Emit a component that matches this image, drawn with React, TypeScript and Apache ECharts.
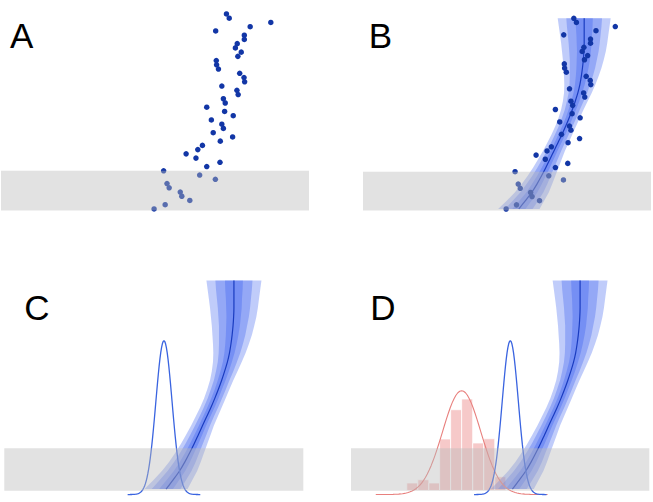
import React, { useEffect, useRef } from "react";
import * as echarts from "echarts";

// ---- data (x: signal units across the band, y: level index) ----
const pointX = [
  4.97, 5.33, 6.13, 5.87, 5.82, 5.46, 5.39, 6.96, 6.45, 5.28,
  6.68, 7.11, 6.33, 6.01, 6.39, 6.54, 7.12, 7.52, 6.89, 7.22,
  7.17, 6.83, 7.54, 7.26, 6.68, 7.28, 7.22, 7.7, 7.66, 7.17,
  7.91, 7.89, 7.75, 7.06, 7.0, 6.99, 7.69, 7.8, 7.61, 7.67,
  7.9, 7.9, 6.97, 8.09, 8.76, 7.41, 7.32,
];
const pointY = [
  0, 1, 2, 3, 4, 5, 6, 7, 8, 9,
  10, 11, 12, 13, 14, 15, 16, 17, 18, 19,
  20, 21, 22, 23, 24, 25, 26, 27, 28, 29,
  30, 31, 32, 33, 34, 35, 36, 37, 38, 39,
  40, 41, 42, 43, 44, 45, 46,
];

const fanY = [0, 2, 4, 6, 8, 10, 12, 14, 16, 18, 20, 22, 24, 26, 28, 30, 32, 34, 36, 38, 40, 42, 44, 46];
const fanCenter = [
  5.41, 5.64, 5.86, 6.04, 6.2, 6.35, 6.49, 6.63, 6.77, 6.91, 7.04, 7.16,
  7.27, 7.37, 7.46, 7.53, 7.58, 7.62, 7.65, 7.67, 7.68, 7.68, 7.68, 7.68,
];
const fanOuter = [
  0.72, 0.65, 0.59, 0.53, 0.48, 0.44, 0.41, 0.38, 0.37, 0.36, 0.36, 0.37,
  0.39, 0.43, 0.48, 0.54, 0.6, 0.66, 0.71, 0.76, 0.8, 0.84, 0.88, 0.92,
];
const fanMiddle = [
  0.48, 0.44, 0.4, 0.36, 0.32, 0.29, 0.27, 0.25, 0.24, 0.24, 0.24, 0.25,
  0.26, 0.29, 0.32, 0.36, 0.4, 0.44, 0.47, 0.51, 0.54, 0.57, 0.6, 0.62,
];
const fanInner = [
  0.23, 0.21, 0.19, 0.17, 0.15, 0.14, 0.13, 0.12, 0.12, 0.12, 0.12, 0.12,
  0.13, 0.14, 0.15, 0.17, 0.19, 0.21, 0.23, 0.24, 0.26, 0.27, 0.29, 0.3,
];

const histEdges = [1.87, 2.24, 2.61, 2.97, 3.34, 3.71, 4.08, 4.45, 4.82, 5.19];
const histHeights = [1.35, 2.07, 1.35, 11.05, 17.5, 19.87, 10.17, 11.11, 2.73];
const histBase = -0.3;

const refMean = 3.71;
const refSd = 0.64;
const refPeak = 22.9;
const predMean = 5.34;
const predSd = 0.27;
const predPeak = 33.9;
const curveBase = -1.2;

const bandX = [0, 10];
const bandY = [-0.35, 9];

const panelLabels = ["A", "B", "C", "D"];

// ---- layout ----
const grids = [
  { left: 1, top: 5.5, width: 308, height: 209.4 },
  { left: 363, top: 10, width: 288, height: 204.8 },
  { left: 4.3, top: 271.4, width: 299, height: 224.05 },
  { left: 351, top: 271.4, width: 298.3, height: 224.05 },
];
const labelPos = [
  [10, 35.5],
  [368.7, 35.5],
  [24.3, 307],
  [370.3, 307],
];

const POINT_COLOR = "#1236a6";
const FAN_FILL = "rgba(45,85,240,0.3)";
const CENTER_COLOR = "#1a3cc0";
const PRED_COLOR = "#3a64e0";
const REF_COLOR = "#e8807e";
const HIST_FILL = "rgba(240,165,165,0.6)";
const BAND_FILL = "rgba(185,185,185,0.42)";

function normalCurve(mean: number, sd: number, peak: number) {
  const pts: number[][] = [];
  for (let k = -45; k <= 45; k++) {
    const z = k * 0.1;
    pts.push([mean + z * sd, curveBase + peak * Math.exp(-0.5 * z * z)]);
  }
  return pts;
}

function bandSeries(i: number) {
  return {
    type: "custom",
    xAxisIndex: i,
    yAxisIndex: i,
    z: 10,
    silent: true,
    data: [[bandX[0], bandY[0]]],
    renderItem: (_p: any, api: any) => {
      const a = api.coord([bandX[0], bandY[1]]);
      const b = api.coord([bandX[1], bandY[0]]);
      return {
        type: "rect",
        shape: { x: a[0], y: a[1], width: b[0] - a[0], height: b[1] - a[1] },
        style: { fill: BAND_FILL },
      };
    },
  };
}

function fanSeries(i: number) {
  const widths = [fanOuter, fanMiddle, fanInner];
  return {
    type: "custom",
    xAxisIndex: i,
    yAxisIndex: i,
    z: 2,
    silent: true,
    data: [[0, 0], [1, 0], [2, 0]],
    renderItem: (p: any, api: any) => {
      const w = widths[p.dataIndex];
      const left = fanY.map((y, k) => api.coord([fanCenter[k] - w[k], y]));
      const right = fanY.map((y, k) => api.coord([fanCenter[k] + w[k], y])).reverse();
      return {
        type: "polygon",
        shape: { points: left.concat(right) },
        style: { fill: FAN_FILL },
      };
    },
  };
}

function centerSeries(i: number) {
  return {
    type: "line",
    xAxisIndex: i,
    yAxisIndex: i,
    z: 3,
    silent: true,
    showSymbol: false,
    smooth: 0.3,
    clip: false,
    data: fanY.map((y, k) => [fanCenter[k], y]),
    lineStyle: { color: CENTER_COLOR, width: 1.2 },
  };
}

function scatterSeries(i: number) {
  return {
    type: "scatter",
    xAxisIndex: i,
    yAxisIndex: i,
    z: 4,
    silent: true,
    symbolSize: 5.5,
    data: pointX.map((x, k) => [x, pointY[k]]),
    itemStyle: { color: POINT_COLOR, opacity: 1 },
  };
}

function curveSeries(i: number, mean: number, sd: number, peak: number, color: string, width: number) {
  return {
    type: "line",
    xAxisIndex: i,
    yAxisIndex: i,
    z: 3,
    silent: true,
    showSymbol: false,
    clip: false,
    data: normalCurve(mean, sd, peak),
    lineStyle: { color, width },
  };
}

function histSeries(i: number) {
  return {
    type: "custom",
    xAxisIndex: i,
    yAxisIndex: i,
    z: 1,
    silent: true,
    encode: { x: [0, 1], y: 2 },
    data: histHeights.map((h, k) => [histEdges[k], histEdges[k + 1], h]),
    renderItem: (_p: any, api: any) => {
      const a = api.coord([api.value(0), api.value(2)]);
      const b = api.coord([api.value(1), histBase]);
      return {
        type: "rect",
        shape: { x: a[0], y: a[1], width: b[0] - a[0], height: b[1] - a[1] },
        style: { fill: HIST_FILL, stroke: "#ffffff", lineWidth: 0.8 },
      };
    },
  };
}

export default function App() {
  const ref = useRef<HTMLDivElement>(null);
  useEffect(() => {
    if (!ref.current) return;
    const chart = echarts.init(ref.current, null, { renderer: "svg" });
    const series: any[] = [];
    // Panel A
    series.push(scatterSeries(0), bandSeries(0));
    // Panel B
    series.push(fanSeries(1), centerSeries(1), scatterSeries(1), bandSeries(1));
    // Panel C
    series.push(fanSeries(2), centerSeries(2), curveSeries(2, predMean, predSd, predPeak, PRED_COLOR, 1.3), bandSeries(2));
    // Panel D
    series.push(
      histSeries(3),
      curveSeries(3, refMean, refSd, refPeak, REF_COLOR, 1.1),
      fanSeries(3),
      centerSeries(3),
      curveSeries(3, predMean, predSd, predPeak, PRED_COLOR, 1.3),
      bandSeries(3)
    );
    chart.setOption({
      animation: false,
      backgroundColor: "#ffffff",
      grid: grids.map((g) => ({ ...g, containLabel: false, show: false })),
      xAxis: grids.map((_, i) => ({
        type: "value",
        gridIndex: i,
        min: bandX[0],
        max: bandX[1],
        show: false,
        splitLine: { show: false },
      })),
      yAxis: grids.map((_, i) => ({
        type: "value",
        gridIndex: i,
        min: -1.4,
        max: 48,
        show: false,
        splitLine: { show: false },
      })),
      graphic: panelLabels.map((t, i) => ({
        type: "text",
        x: labelPos[i][0],
        y: labelPos[i][1],
        z: 20,
        style: {
          text: t,
          font: '35px "Liberation Sans", Arial, sans-serif',
          fill: "#000000",
          align: "left",
          verticalAlign: "middle",
        },
      })),
      series,
    });
    return () => chart.dispose();
  }, []);
  return (
    <div
      ref={ref}
      style={{ position: "fixed", left: 0, top: 0, width: 653, height: 502, background: "#fff" }}
    />
  );
}
